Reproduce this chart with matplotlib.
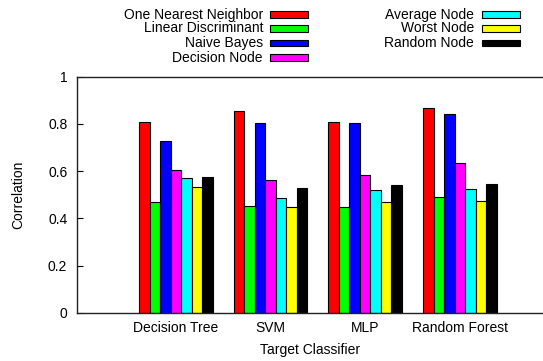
import matplotlib
matplotlib.use("Agg")
import matplotlib.pyplot as plt
from matplotlib.patches import Rectangle
import numpy as np

plt.rcParams['font.family'] = ['Liberation Sans', 'DejaVu Sans']

categories = ["Decision Tree", "SVM", "MLP", "Random Forest"]
series_names = ["One Nearest Neighbor", "Linear Discriminant", "Naive Bayes",
                "Decision Node", "Average Node", "Worst Node", "Random Node"]
one_nn = [0.809, 0.853, 0.807, 0.866]
linear_disc = [0.468, 0.451, 0.447, 0.492]
naive_bayes = [0.726, 0.802, 0.802, 0.841]
decision_node = [0.605, 0.561, 0.582, 0.633]
average_node = [0.569, 0.486, 0.520, 0.523]
worst_node = [0.534, 0.448, 0.470, 0.472]
random_node = [0.576, 0.528, 0.540, 0.544]
series = [one_nn, linear_disc, naive_bayes, decision_node, average_node, worst_node, random_node]
colors = ["#ff0000", "#00ff00", "#0000ff", "#ff00ff", "#00ffff", "#ffff00", "#000000"]
yticks = [0, 0.2, 0.4, 0.6, 0.8, 1]
ytick_labels = ["0", "0.2", "0.4", "0.6", "0.8", "1"]

W, H = 543, 361
fig = plt.figure(figsize=(W / 100, H / 100), dpi=100)
ax = fig.add_axes([77/W, 48.3/H, 1 - 77/W, 236/H])

x = np.arange(len(categories))
w = 1/9
for i, (vals, c) in enumerate(zip(series, colors)):
    ax.bar(x + (i - 3) * w, vals, width=w, color=c, edgecolor="black", linewidth=0.8)

ax.set_xlim(-1.048, 3.88)
ax.set_ylim(0, 1)
ax.set_yticks(yticks)
ax.set_yticklabels(ytick_labels, fontsize=10)
ax.set_xticks(x)
ax.set_xticklabels(categories, fontsize=10)
ax.tick_params(axis='x', length=0, pad=6)
ax.tick_params(axis='y', direction='in', length=4, pad=7)
ax.spines['right'].set_visible(False)
for s in ['left', 'top', 'bottom']:
    ax.spines[s].set_linewidth(1.0)
    ax.spines[s].set_color('#222222')
ax.set_ylabel("Correlation", fontsize=10, labelpad=16)
ax.set_xlabel("Target Classifier", fontsize=10, labelpad=6)

# manual legend (gnuplot style: right-aligned text, swatch to the right)
row_y = [14.5, 28.5, 43.0, 57.5]
cols = [(263, 270), (474, 482)]
for k, (name, c) in enumerate(zip(series_names, colors)):
    col = 0 if k < 4 else 1
    r = k if k < 4 else k - 4
    tx, sx = cols[col]
    yc = row_y[r]
    fig.text(tx / W, 1 - yc / H, name, ha='right', va='center', fontsize=10)
    fig.add_artist(Rectangle((sx / W, 1 - (yc + 3.2) / H), 38 / W, 6.4 / H,
                             transform=fig.transFigure, facecolor=c,
                             edgecolor='black', linewidth=0.8))

fig.savefig("out.png", dpi=100)
